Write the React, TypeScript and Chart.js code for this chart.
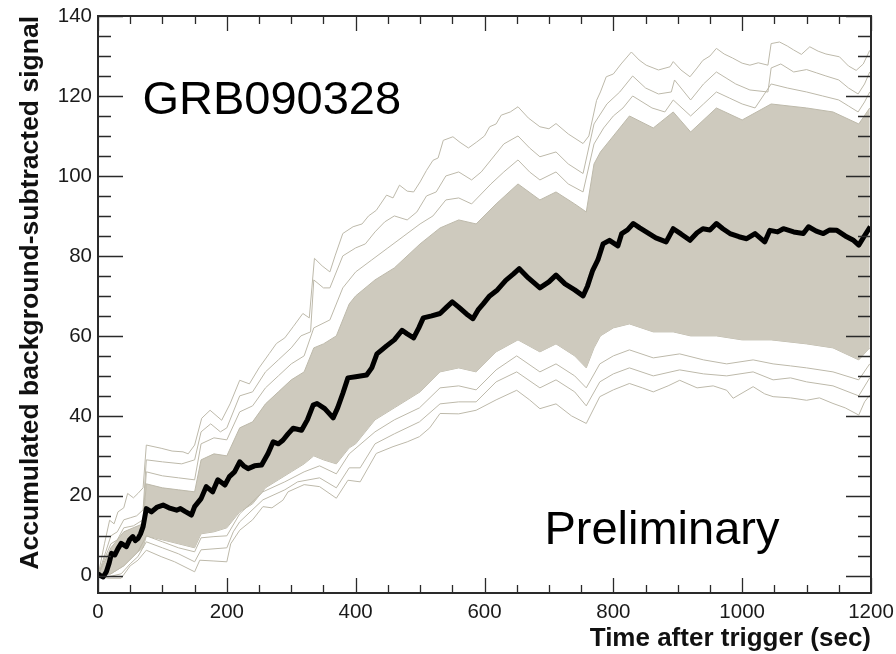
import React, { useEffect, useRef } from "react";
import { Chart, registerables } from "chart.js";

Chart.register(...registerables);

// ---- axis ticks ----
const xTickValues = [0, 200, 400, 600, 800, 1000, 1200];
const yTickValues = [0, 20, 40, 60, 80, 100, 120, 140];
const xMinorStep = 50;
const yMinorStep = 5;

// ---- texts ----
const xTitle = "Time after trigger (sec)";
const yTitle = "Accumulated background-subtracted signal";
const burstLabel = "GRB090328";
const prelimLabel = "Preliminary";

// ---- series: [time (s), accumulated signal] ----
const meanSignal: [number, number][] = [
  [0, 0.5], [4, 0], [8, -0.3], [13, 1], [17, 3], [21, 5.6], [26, 5.2], [31, 6.8], [36, 8.1], [44, 7.3],
  [49, 9], [54, 9.8], [58, 8.8], [62, 9.3], [66, 10.5], [70, 12.3], [75, 16.8], [83, 16], [92, 17.2],
  [101, 17.7], [110, 17], [122, 16.4], [128, 16.8], [135, 16.1], [145, 15.2], [150, 17.3], [160, 19.3],
  [168, 22.3], [178, 21], [186, 24], [197, 22.7], [204, 24.8], [212, 26], [220, 28.5], [226, 27.5],
  [233, 26.8], [243, 27.5], [254, 27.7], [264, 30.6], [272, 33.5], [280, 33], [287, 33.9], [295, 35.5],
  [303, 36.9], [316, 36.4], [325, 39], [334, 42.7], [340, 43.1], [352, 41.8], [365, 39.5], [372, 42],
  [380, 45.6], [388, 49.5], [400, 49.8], [417, 50.2], [425, 52], [433, 55.5], [448, 57.5], [460, 59],
  [472, 61.4], [480, 60.5], [490, 59.5], [498, 62], [505, 64.5], [518, 65], [531, 65.6], [540, 67],
  [550, 68.5], [560, 67.2], [572, 65.5], [582, 64.3], [590, 66.5], [598, 68], [608, 70], [620, 71.5],
  [633, 73.9], [645, 75.5], [654, 76.8], [668, 74.5], [686, 72], [700, 73.5], [711, 75.2], [725, 73],
  [740, 71.5], [753, 70], [760, 72.5], [768, 76.4], [776, 79], [784, 83], [794, 83.9], [807, 82.5],
  [813, 85.6], [822, 86.5], [831, 88.1], [841, 87], [851, 86], [866, 84.5], [882, 83.5], [893, 86.8],
  [905, 85.5], [919, 83.9], [930, 85.8], [939, 86.8], [950, 86.5], [960, 88.1], [970, 86.8], [981, 85.6],
  [995, 84.8], [1007, 84.3], [1020, 85.6], [1035, 83.5], [1043, 86.4], [1055, 86], [1064, 86.8],
  [1080, 86], [1095, 85.6], [1103, 87.3], [1115, 86.2], [1126, 85.6], [1136, 86.5], [1147, 86.4],
  [1160, 85], [1172, 84], [1181, 82.7], [1189, 84.8], [1199, 87.3],
];

const upperTrial1: [number, number][] = [
  [0, 0], [10, 8], [18, 13.9], [25, 13], [31, 16], [40, 17], [46, 20.6], [55, 19.5], [62, 20.6], [70, 22],
  [75, 32.7], [98, 31.9], [115, 31.2], [132, 31], [140, 30.5], [150, 32.7], [161, 39.4], [174, 41.4],
  [192, 38.9], [205, 43], [220, 48.9], [235, 48], [250, 52], [266, 55.6], [277, 58.1], [290, 59.5],
  [303, 62.3], [318, 65.6], [328, 64.5], [332, 72], [336, 79.4], [348, 77.5], [360, 76], [368, 80],
  [380, 85.6], [396, 87.3], [410, 88], [420, 90], [432, 91.4], [448, 95.2], [458, 94.5], [468, 97.7],
  [480, 96.2], [490, 96], [500, 98.5], [510, 101.4], [520, 103.9], [528, 104.5], [536, 108.9],
  [551, 109.8], [562, 108.4], [575, 107], [588, 108.5], [600, 110], [608, 112.3], [618, 113],
  [626, 115.2], [640, 116], [652, 117.3], [668, 114.5], [686, 112.3], [700, 111.8], [711, 113.1],
  [730, 110.5], [753, 108.1], [762, 110], [774, 118.9], [780, 121], [789, 124.8], [800, 125.5],
  [812, 128], [828, 131], [840, 129], [851, 127.7], [870, 126.5], [888, 127.3], [893, 128.6],
  [905, 126.5], [919, 124.8], [930, 127], [939, 128.9], [950, 130], [960, 131.9], [972, 130.5],
  [985, 129.5], [1000, 128.2], [1012, 127.7], [1025, 128.3], [1040, 127.7], [1045, 133.1],
  [1058, 133.5], [1070, 132.5], [1080, 131.5], [1092, 130.4], [1105, 132.3], [1118, 131.2],
  [1130, 130.5], [1151, 129.8], [1165, 127.5], [1177, 126.4], [1188, 128], [1198, 131.4],
];

const upperTrial2: [number, number][] = [
  [0, 0], [12, 6], [20, 10], [30, 11], [40, 14], [50, 14.5], [60, 15], [70, 16.5], [75, 29], [100, 28.5],
  [130, 28], [150, 29], [160, 36], [175, 38], [190, 36], [200, 37], [220, 45], [240, 46], [260, 51],
  [280, 54], [300, 57], [315, 60], [330, 61], [335, 74], [350, 72], [360, 72], [380, 80], [400, 82],
  [415, 83], [430, 86], [445, 88.5], [460, 90], [480, 89], [495, 91], [510, 95], [525, 96], [540, 100],
  [560, 101], [580, 99], [595, 101], [610, 104], [630, 108], [652, 110], [670, 107], [686, 104.8],
  [711, 106], [730, 103], [753, 100.6], [770, 113], [790, 118], [810, 121], [830, 125], [850, 122],
  [870, 120.5], [890, 121], [895, 124], [920, 119], [940, 123], [960, 126], [975, 124.5], [990, 123],
  [1012, 121.5], [1040, 121], [1045, 127], [1060, 128], [1080, 126], [1100, 126.6], [1115, 125.8],
  [1130, 125], [1150, 124], [1165, 122], [1180, 120.5], [1190, 123], [1198, 126],
];

const upperTrial3: [number, number][] = [
  [0, 0], [12, 5], [20, 8], [30, 9], [40, 12], [55, 12.5], [70, 14], [75, 26], [100, 25], [125, 24.5],
  [150, 24], [160, 33], [180, 34.5], [200, 34], [220, 41], [240, 42.5], [260, 47], [280, 50], [300, 53],
  [320, 55], [335, 62], [360, 64], [380, 72], [400, 76], [425, 79], [450, 82], [475, 85], [500, 88],
  [520, 90], [540, 94], [560, 94.5], [580, 93], [610, 98], [630, 101], [652, 104], [670, 101], [686, 99],
  [711, 101], [730, 98], [753, 96], [770, 108], [785, 112], [800, 115], [815, 117], [830, 120],
  [860, 117], [880, 116], [893, 119], [920, 115], [940, 118], [960, 121], [980, 119.5], [1000, 118],
  [1020, 117], [1045, 123], [1070, 122], [1100, 121], [1125, 120], [1150, 119], [1165, 117.5],
  [1180, 116], [1190, 118.5], [1198, 121],
];

// dense bundle of trials: [time, top of bundle, bottom of bundle]
const trialBundle: [number, number, number][] = [
  [0, 0, 0], [20, 7, 0.5], [40, 11, 2.5], [62, 12.5, 6], [70, 13, 7], [75, 23, 10], [100, 22, 9],
  [125, 21.5, 8], [150, 21, 7], [160, 29, 10.5], [180, 30.5, 11], [200, 30, 12], [220, 37, 16],
  [240, 38.5, 18], [260, 43, 22], [280, 46, 24], [300, 49, 26], [320, 51, 28], [335, 57, 30],
  [350, 58, 29], [370, 60, 28], [390, 68, 32], [400, 70, 33], [430, 74, 39], [460, 77, 42],
  [500, 83, 46], [531, 87, 51], [560, 89, 52], [587, 88, 51], [618, 93, 56], [652, 98, 59],
  [686, 94, 56], [711, 96, 58], [740, 93, 55], [758, 91, 52], [770, 103, 57], [780, 106, 60],
  [800, 110, 62], [825, 115, 63], [862, 112, 61], [893, 116, 61], [920, 111, 60], [960, 117, 60],
  [1000, 114, 59], [1045, 118, 59], [1100, 117, 58], [1141, 116, 57], [1181, 113, 54], [1198, 117, 57],
];

const lowerTrial3: [number, number][] = [
  [0, 0], [20, 0.5], [40, 2.5], [62, 6], [75, 10], [100, 8.5], [125, 7], [150, 6], [160, 9.5],
  [180, 9.8], [200, 10], [220, 15.5], [256, 21], [290, 23.5], [320, 26], [344, 27.5], [370, 25.5],
  [390, 30.5], [430, 36], [460, 39], [499, 42], [531, 47], [560, 47.5], [587, 46.5], [618, 51.5],
  [650, 55], [686, 51], [711, 53], [740, 50], [758, 47], [779, 53], [800, 55], [825, 56.5],
  [862, 54.5], [903, 55.5], [940, 54], [976, 53], [1017, 54], [1048, 53], [1075, 52.5], [1100, 52],
  [1141, 51], [1181, 49], [1198, 53],
];

const lowerTrial2: [number, number][] = [
  [0, 0], [15, -0.3], [36, 0.5], [50, 3], [62, 4.8], [75, 8.5], [100, 7], [125, 5.5], [150, 3.5],
  [160, 6.5], [200, 7], [210, 11], [220, 13.5], [256, 19], [290, 21.5], [310, 23.5], [344, 24.5],
  [370, 22], [390, 27], [407, 27], [430, 33], [460, 35.5], [499, 38.5], [531, 43], [560, 43.5],
  [587, 43.5], [618, 48.5], [650, 51], [686, 47], [711, 49], [740, 46], [758, 42.5], [779, 48.5],
  [800, 50.5], [825, 52], [862, 50], [903, 51.5], [940, 50.5], [976, 50], [1017, 51], [1048, 49],
  [1075, 49.5], [1100, 48.5], [1141, 47.5], [1181, 45], [1198, 49.5],
];

const lowerTrial1: [number, number][] = [
  [0, 0], [15, -0.6], [36, -0.6], [50, 2.5], [62, 3.9], [75, 6.4], [98, 4.8], [119, 3.5], [150, 1],
  [158, 3.9], [180, 3.7], [200, 3.5], [206, 8], [220, 11.4], [240, 14], [256, 17.3], [270, 17],
  [287, 18.9], [295, 21], [320, 22.8], [344, 22.3], [370, 19.4], [388, 23.9], [407, 23.5], [432, 30.6],
  [458, 32.3], [480, 33.5], [499, 34.8], [515, 37], [531, 40.6], [560, 40.5], [587, 41.4], [618, 44],
  [650, 46.4], [670, 44], [686, 41.8], [711, 43], [735, 40], [758, 38.1], [779, 44.8], [800, 46.5],
  [825, 48.1], [845, 47], [862, 46], [885, 47.5], [903, 48.9], [930, 47], [955, 47.5], [976, 46.4],
  [986, 44.4], [1017, 47.3], [1035, 45.5], [1048, 44.8], [1075, 44.5], [1100, 43.9], [1120, 44.5],
  [1141, 43.1], [1160, 42], [1181, 40.2], [1190, 43.5], [1198, 45.2],
];

// text anchors in data units
const burstLabelAt = { x: 69, y: 115.4 };
const prelimLabelAt = { x: 693, y: 7.9 };

const FONT = '"Liberation Sans", Arial, Helvetica, sans-serif';
const GRAY = "#bdb9aa";
const BUNDLE_FILL = "#cecabe";

const framePlugin = {
  id: "rootFrame",
  afterDatasetsDraw(chart: any) {
    const { ctx, chartArea: a, scales } = chart;
    const xs = scales.x;
    const ys = scales.y;
    ctx.save();
    ctx.strokeStyle = "#2a2a2a";
    ctx.lineWidth = 1.3;
    ctx.beginPath();
    const xMax = xTickValues[xTickValues.length - 1];
    for (let v = xTickValues[0]; v <= xMax; v += xMinorStep) {
      const px = Math.round(xs.getPixelForValue(v)) + 0.5;
      const major = xTickValues.includes(v);
      const len = major ? 15 : 8;
      ctx.moveTo(px, a.bottom);
      ctx.lineTo(px, a.bottom - len);
      ctx.moveTo(px, a.top);
      ctx.lineTo(px, a.top + len);
    }
    const yMax = yTickValues[yTickValues.length - 1];
    for (let v = yTickValues[0]; v <= yMax; v += yMinorStep) {
      const py = Math.round(ys.getPixelForValue(v)) + 0.5;
      const major = yTickValues.includes(v);
      const len = major ? 25 : 13;
      ctx.moveTo(a.left, py);
      ctx.lineTo(a.left + len, py);
      ctx.moveTo(a.right, py);
      ctx.lineTo(a.right - len, py);
    }
    ctx.stroke();
    ctx.lineWidth = 2;
    ctx.strokeRect(a.left, a.top, a.right - a.left, a.bottom - a.top);
    ctx.restore();
  },
  afterDraw(chart: any) {
    const { ctx, scales } = chart;
    ctx.save();
    ctx.fillStyle = "#000";
    ctx.textBaseline = "alphabetic";
    ctx.textAlign = "left";
    ctx.font = `47px ${FONT}`;
    ctx.fillText(burstLabel, scales.x.getPixelForValue(burstLabelAt.x), scales.y.getPixelForValue(burstLabelAt.y));
    ctx.font = `47px ${FONT}`;
    ctx.fillText(prelimLabel, scales.x.getPixelForValue(prelimLabelAt.x), scales.y.getPixelForValue(prelimLabelAt.y));
    ctx.restore();
  },
};

export default function App() {
  const ref = useRef<HTMLCanvasElement>(null);
  useEffect(() => {
    document.body.style.margin = "0";
    const canvas = ref.current;
    if (!canvas) return;
    const toXY = (arr: [number, number][]) => arr.map(([x, y]) => ({ x, y }));
    const grayLine = (data: [number, number][], order: number) => ({
      data: toXY(data),
      borderColor: GRAY,
      borderWidth: 1,
      pointRadius: 0,
      tension: 0,
      fill: false,
      order,
    });
    const chart = new Chart(canvas, {
      type: "line",
      data: {
        datasets: [
          {
            data: trialBundle.map(([t, hi]) => ({ x: t, y: hi })),
            borderColor: GRAY,
            borderWidth: 1,
            backgroundColor: BUNDLE_FILL,
            pointRadius: 0,
            tension: 0,
            fill: "+1",
            order: 3,
          } as any,
          {
            data: trialBundle.map(([t, , lo]) => ({ x: t, y: lo })),
            borderColor: GRAY,
            borderWidth: 1,
            pointRadius: 0,
            tension: 0,
            fill: false,
            order: 3,
          },
          grayLine(upperTrial1, 2),
          grayLine(upperTrial2, 2),
          grayLine(upperTrial3, 2),
          grayLine(lowerTrial1, 2),
          grayLine(lowerTrial2, 2),
          grayLine(lowerTrial3, 2),
          {
            data: toXY(meanSignal),
            borderColor: "#000",
            borderWidth: 5,
            pointRadius: 0,
            tension: 0,
            fill: false,
            order: 0,
            borderJoinStyle: "round",
          } as any,
        ],
      },
      options: {
        responsive: false,
        animation: false,
        devicePixelRatio: 1,
        layout: { padding: { left: 0, top: 16, right: 25, bottom: 0 } },
        plugins: { legend: { display: false }, tooltip: { enabled: false } },
        events: [],
        scales: {
          x: {
            type: "linear",
            min: 0,
            max: 1200,
            afterBuildTicks: (s: any) => {
              s.ticks = xTickValues.map((value) => ({ value }));
            },
            afterFit: (s: any) => {
              s.height = 61;
              s.paddingLeft = 0;
              s.paddingRight = 0;
            },
            grid: { display: false, drawTicks: false, tickLength: 0 },
            border: { display: false },
            ticks: {
              autoSkip: false,
              maxRotation: 0,
              padding: 7,
              color: "#1a1a1a",
              font: { family: FONT, size: 20.5 },
              callback: (v: any) => String(v),
            },
            title: {
              display: true,
              text: xTitle,
              align: "end",
              color: "#111",
              padding: { top: 0, bottom: 0 },
              font: { family: FONT, size: 26, weight: "bold" },
            },
          },
          y: {
            type: "linear",
            min: -4.3,
            max: 140,
            afterBuildTicks: (s: any) => {
              s.ticks = yTickValues.map((value) => ({ value }));
            },
            afterFit: (s: any) => {
              s.width = 98;
              s.paddingTop = 0;
              s.paddingBottom = 0;
            },
            grid: { display: false, drawTicks: false, tickLength: 0 },
            border: { display: false },
            ticks: {
              autoSkip: false,
              padding: 6,
              color: "#1a1a1a",
              font: { family: FONT, size: 20.5 },
              callback: (v: any) => String(v),
            },
            title: {
              display: true,
              text: yTitle,
              align: "end",
              color: "#111",
              padding: { top: 15, bottom: 0 },
              font: { family: FONT, size: 26.5, weight: "bold" },
            },
          },
        },
      } as any,
      plugins: [framePlugin],
    });
    return () => chart.destroy();
  }, []);
  return <canvas ref={ref} width={896} height={654} style={{ display: "block" }} />;
}
